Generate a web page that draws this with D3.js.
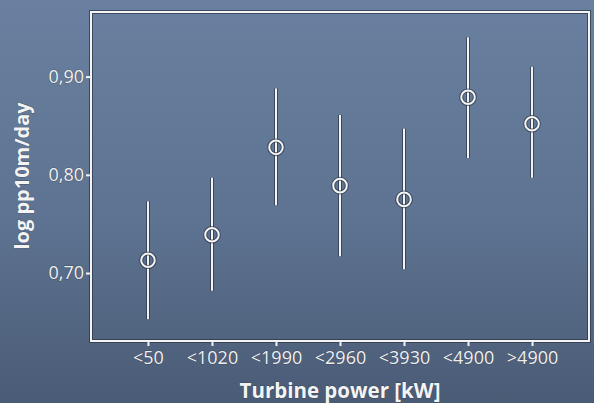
<!DOCTYPE html>
<html><head><meta charset="utf-8">
<script src="https://cdn.jsdelivr.net/npm/d3@7"></script>
<style>
html,body{margin:0;padding:0;overflow:hidden;}
svg{display:block;}
text{font-family:"Open Sans","Noto Sans",sans-serif;}
</style></head>
<body><svg id="chart" width="594" height="403"></svg>
<script>
const categories = ["<50","<1020","<1990","<2960","<3930","<4900",">4900"];
const means = [0.713,0.739,0.828,0.789,0.775,0.879,0.852];
const lowers = [0.653,0.682,0.769,0.717,0.704,0.817,0.797];
const uppers = [0.773,0.797,0.888,0.861,0.847,0.940,0.910];
const yTicks = [0.70,0.80,0.90];
const yLabel = "log pp10m/day";
const xLabel = "Turbine power [kW]";

const W=594,H=403;
const m={left:91,top:12,right:5,bottom:62};
const svg=d3.select("#chart");
const defs=svg.append("defs");
const g=defs.append("linearGradient").attr("id","bg").attr("x1",0).attr("y1",0).attr("x2",0).attr("y2",1);
g.append("stop").attr("offset","0%").attr("stop-color","#6a80a0");
g.append("stop").attr("offset","55%").attr("stop-color","#5d7391");
g.append("stop").attr("offset","100%").attr("stop-color","#4a5b76");
svg.append("rect").attr("width",W).attr("height",H).attr("fill","url(#bg)");

const x=d3.scalePoint().domain(categories).range([m.left,W-m.right]).padding(0.89);
const y=d3.scaleLinear().domain([0.6308,0.9658]).range([H-m.bottom,m.top]);

const dark="#2a3344";
function dual(sel,fn){
  fn(sel.append("g").attr("stroke",dark).attr("stroke-opacity",0.7).attr("stroke-width",4).attr("fill","none"));
  fn(sel.append("g").attr("stroke","#f4f4f4").attr("stroke-width",2).attr("fill","none"));
}
const plot=svg.append("g");
dual(plot,s=>s.append("rect").attr("x",m.left).attr("y",m.top).attr("width",W-m.right-m.left).attr("height",H-m.bottom-m.top));

const yAxis=d3.axisLeft(y).tickValues(yTicks).tickSize(5).tickPadding(2).tickFormat(d=>d3.format(".2f")(d).replace(".",","));
const xAxis=d3.axisBottom(x).tickSize(5).tickPadding(2);
function styleAxis(a){
  a.attr("font-size",null).attr("font-family",null);
  a.select(".domain").remove();
  a.selectAll("line").attr("stroke","#f4f4f4").attr("stroke-width",2);
  a.selectAll("text").attr("fill","#f0f0f0").style("font-size","18px")
   .attr("stroke",dark).attr("stroke-width",0.9).attr("stroke-opacity",0.6).attr("paint-order","stroke");
}
const ya=svg.append("g").attr("transform",`translate(${m.left},0)`).call(yAxis);
styleAxis(ya);
const xa=svg.append("g").attr("transform",`translate(0,${H-m.bottom})`).call(xAxis);
styleAxis(xa); xa.selectAll("text").attr("dy","0.9em");

const idx=d3.range(categories.length);
dual(plot,s=>{
  s.selectAll("line").data(idx).join("line")
    .attr("x1",i=>x(categories[i])).attr("x2",i=>x(categories[i]))
    .attr("y1",i=>y(lowers[i])).attr("y2",i=>y(uppers[i]));
});
dual(plot,s=>{
  s.selectAll("circle").data(idx).join("circle")
    .attr("cx",i=>x(categories[i])).attr("cy",i=>y(means[i])).attr("r",6.8);
});

svg.append("text").attr("transform",`translate(29,${176}) rotate(-90)`)
  .attr("text-anchor","middle").attr("fill","#f4f4f4").attr("font-weight","bold").style("font-size","20px")
  .attr("stroke",dark).attr("stroke-width",0.8).attr("stroke-opacity",0.5).attr("paint-order","stroke")
  .text(yLabel);
svg.append("text").attr("x",340).attr("y",397.5)
  .attr("text-anchor","middle").attr("fill","#f4f4f4").attr("font-weight","bold").style("font-size","20.5px")
  .attr("stroke",dark).attr("stroke-width",0.8).attr("stroke-opacity",0.5).attr("paint-order","stroke")
  .text(xLabel);
</script></body></html>
